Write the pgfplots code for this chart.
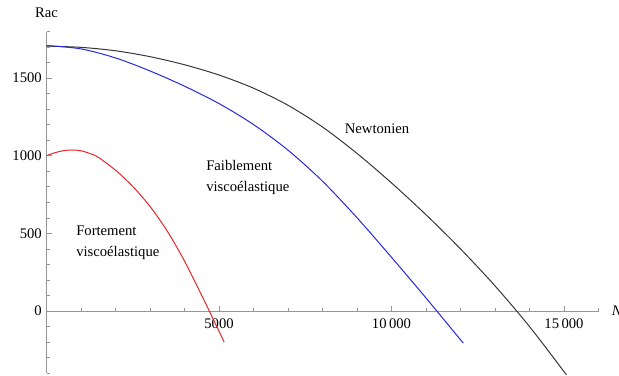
\documentclass[border=0pt]{standalone}
\usepackage{pgfplots}
\pgfplotsset{compat=1.18}
\usepackage{fontspec}
\setmainfont{Liberation Serif}
\definecolor{cnewt}{RGB}{55,55,55}
\definecolor{cfaib}{RGB}{40,40,225}
\definecolor{cfort}{RGB}{228,40,45}
\definecolor{caxis}{RGB}{150,150,150}
\begin{document}
\begin{tikzpicture}
\begin{axis}[
  x=0.025875pt, y=0.11648pt,
  axis lines=middle,
  axis line style={caxis, line width=0.5pt, -},
  xmin=0, xmax=16000, ymin=-400, ymax=1800,
  clip=false,
  scaled x ticks=false, scaled y ticks=false,
  xtick={5000,10000,15000},
  xticklabels={5000,10\,000,15\,000},
  minor xtick={1000,2000,3000,4000,6000,7000,8000,9000,11000,12000,13000,14000,16000},
  ytick={0,500,1000,1500},
  yticklabels={0,500,1000,1500},
  minor ytick={-400,-300,-200,-100,100,200,300,400,600,700,800,900,1100,1200,1300,1400,1600,1700,1800},
  hide obscured y ticks=false,
  tick align=inside,
  tick style={caxis, line width=0.5pt},
  major tick length=4pt, minor tick length=2.5pt,
  /pgf/number format/assume math mode=true,
  ticklabel style={font=\fontsize{11}{13}\selectfont, text=black},
  xticklabel style={yshift=-2pt},
]
\addplot[cnewt, line width=0.75pt, smooth] coordinates {
(0,1706) (1000,1698) (2000,1676) (3000,1638) (4000,1586) (5000,1520)
(6000,1435) (7000,1325) (8000,1185) (9000,1015) (10000,825) (11000,620)
(12000,400) (13000,162) (14000,-100) (15000,-390) (15030,-399)};
\addplot[cfaib, line width=0.75pt, smooth] coordinates {
(0,1710) (1000,1688) (2000,1630) (3000,1546) (4000,1448) (5000,1336)
(6000,1201) (7000,1036) (8000,836) (9000,601) (10000,346) (11000,84)
(12000,-185) (12050,-198)};
\addplot[cfort, line width=0.75pt, smooth] coordinates {
(0,1000) (250,1020) (500,1033) (750,1037) (1000,1032) (1250,1015) (1500,990)
(2000,907) (2500,802) (3000,674) (3500,515) (4000,322) (4500,100)
(5000,-130) (5150,-200)};
\node[font=\fontsize{11}{13}\selectfont] at (axis cs:9580,1172) {Newtonien};
\node[anchor=west, align=left, font=\fontsize{11}{16}\selectfont, inner sep=0pt] at (axis cs:4623,860) {Faiblement\\viscoélastique};
\node[anchor=west, align=left, font=\fontsize{11}{16}\selectfont, inner sep=0pt] at (axis cs:855,438) {Fortement\\viscoélastique};
\node[font=\fontsize{11}{13}\selectfont] at (axis cs:0,1919) {Rac};
\node[anchor=west, font=\fontsize{11}{13}\itshape] at (axis cs:16250,0) {N};
\coordinate (bb1) at (axis cs:-1348,-412);
\coordinate (bb2) at (axis cs:16594,2003);
\end{axis}
\pgfresetboundingbox
\path[use as bounding box] (bb1) rectangle (bb2);
\end{tikzpicture}
\end{document}
